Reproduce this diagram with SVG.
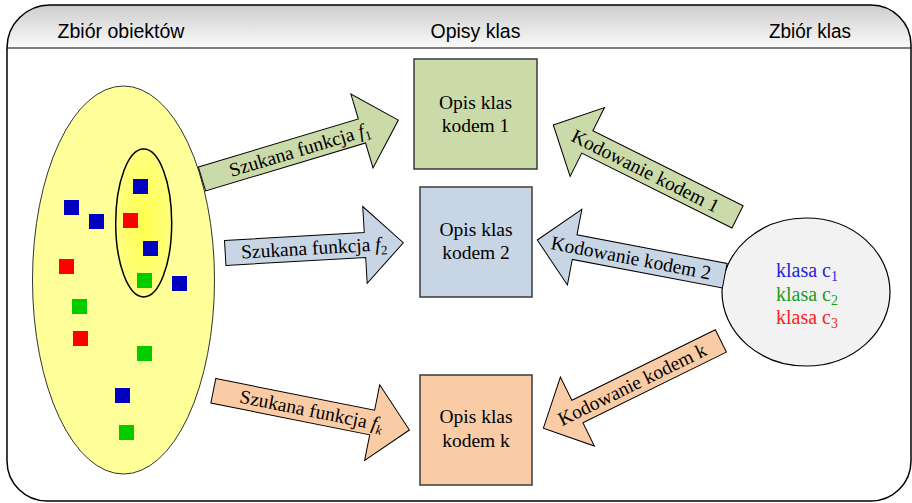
<svg xmlns="http://www.w3.org/2000/svg" width="912" height="503" viewBox="0 0 912 503">
<defs>
<linearGradient id="hdr" x1="0" y1="0" x2="0" y2="1">
<stop offset="0" stop-color="#cdcdcd"/>
<stop offset="1" stop-color="#fbfbfb"/>
</linearGradient>
<radialGradient id="inner" cx="0.5" cy="0.5" r="0.5">
<stop offset="0" stop-color="#ffff4d"/>
<stop offset="1" stop-color="#ffff80"/>
</radialGradient>
<style>
.hdr{font-family:"Liberation Sans",Arial,sans-serif;font-size:19.5px;fill:#000;text-anchor:middle}
.t{font-family:"Liberation Serif","Times New Roman",serif;font-size:19.5px;fill:#000;text-anchor:middle}
.k{font-family:"Liberation Serif","Times New Roman",serif;font-size:20px}
.box{stroke:#3a3a3a;stroke-width:1.5}
.arr{stroke:#000;stroke-width:1}
.g{fill:#cbdaa9}.b{fill:#c8d5e4}.o{fill:#f9cca6}
.sb{fill:#0000c0}.sr{fill:#ff0000}.sg{fill:#00cc00}
.it{font-style:italic}
</style>
</defs>
<g id="frame">
<path d="M7,48 A43,43 0 0 1 50,5 L871,5 A40,40 0 0 1 911,45 L911,48 Z" fill="url(#hdr)"/>
<path d="M7,48 L7,461 A40,40 0 0 0 47,501 L871,501 A40,40 0 0 0 911,461 L911,45 A40,40 0 0 0 871,5 L50,5 A43,43 0 0 0 7,48 Z" fill="none" stroke="#000" stroke-width="1.5"/>
<line x1="7" y1="48" x2="911" y2="48" stroke="#000" stroke-width="1.2"/>
<text class="hdr" x="121" y="38">Zbiór obiektów</text>
<text class="hdr" x="475.5" y="38">Opisy klas</text>
<text class="hdr" x="810" y="38" textLength="82" lengthAdjust="spacingAndGlyphs">Zbiór klas</text>
</g>
<g id="objects">
<ellipse cx="123.5" cy="280" rx="91" ry="194" fill="#ffff99" stroke="#333" stroke-width="1"/>
<ellipse cx="143.7" cy="223" rx="28" ry="74" fill="url(#inner)" stroke="#000" stroke-width="1.5"/>
<rect class="sb" x="133" y="179" width="15" height="15"/>
<rect class="sb" x="64" y="200" width="15" height="15"/>
<rect class="sb" x="89" y="214" width="15" height="15"/>
<rect class="sr" x="123" y="213" width="15" height="15"/>
<rect class="sb" x="143" y="241" width="15" height="15"/>
<rect class="sr" x="59" y="259" width="15" height="15"/>
<rect class="sg" x="137" y="273" width="15" height="15"/>
<rect class="sb" x="172" y="276" width="15" height="15"/>
<rect class="sg" x="72" y="299" width="15" height="15"/>
<rect class="sr" x="73" y="331" width="15" height="15"/>
<rect class="sg" x="137" y="346" width="15" height="15"/>
<rect class="sb" x="115" y="388" width="15" height="15"/>
<rect class="sg" x="119" y="425" width="15" height="15"/>
</g>
<g id="box1">
<rect class="box g" x="414" y="59" width="123" height="110"/>
<text class="t" x="475.5" y="109">Opis klas</text>
<text class="t" x="475.5" y="132">kodem 1</text>
</g>
<g id="box2">
<rect class="box b" x="420" y="187" width="112" height="110"/>
<text class="t" x="476" y="236">Opis klas</text>
<text class="t" x="476" y="259">kodem 2</text>
</g>
<g id="boxk">
<rect class="box o" x="420" y="375" width="112" height="110"/>
<text class="t" x="476" y="423">Opis klas</text>
<text class="t" x="476" y="447">kodem k</text>
</g>
<g id="classes">
<ellipse cx="806" cy="292" rx="84" ry="74" fill="#f2f2f2" stroke="#000" stroke-width="1.2"/>
<text class="k" x="776" y="277" fill="#2222dd">klasa c<tspan font-size="14" dy="4">1</tspan></text>
<text class="k" x="776" y="301" fill="#1a9f1a">klasa c<tspan font-size="14" dy="4">2</tspan></text>
<text class="k" x="776" y="324" fill="#ff2020">klasa c<tspan font-size="14" dy="4">3</tspan></text>
</g>
<g id="connectors">
<g transform="translate(202,179) rotate(-16.7)">
<polygon class="arr g" points="0,-12.5 167,-12.5 167,-38.5 205,0 167,38.5 167,12.5 0,12.5"/>
<text class="t" x="102" y="6.5">Szukana funkcja <tspan class="it">f</tspan><tspan font-size="13" dy="4">1</tspan></text>
</g>
<g transform="translate(225.2,253) rotate(-3.3)">
<polygon class="arr b" points="0,-12.5 140,-12.5 140,-38.5 178.4,0 140,38.5 140,12.5 0,12.5"/>
<text class="t" x="89" y="6.5">Szukana funkcja <tspan class="it">f</tspan><tspan font-size="13" dy="4">2</tspan></text>
</g>
<g transform="translate(213.3,390.8) rotate(11.3)">
<polygon class="arr o" points="0,-12.5 162,-12.5 162,-38.5 200,0 162,38.5 162,12.5 0,12.5"/>
<text class="t" x="100" y="6.5">Szukana funkcja <tspan class="it">f</tspan><tspan class="it" font-size="13" dy="4">k</tspan></text>
</g>
<g transform="translate(553.3,125) rotate(26.5)">
<polygon class="arr g" points="0,0 38,-38.5 38,-12.5 205.9,-12.5 205.9,12.5 38,12.5 38,38.5"/>
<text class="t" x="103" y="6.5">Kodowanie kodem 1</text>
</g>
<g transform="translate(537.3,240) rotate(10.8)">
<polygon class="arr b" points="0,0 38,-38.5 38,-12.5 190.8,-12.5 190.8,12.5 38,12.5 38,38.5"/>
<text class="t" x="95.4" y="6.5">Kodowanie kodem 2</text>
</g>
<g transform="translate(543.3,428.3) rotate(-26.2)">
<polygon class="arr o" points="0,0 38,-38.5 38,-12.5 197.9,-12.5 197.9,12.5 38,12.5 38,38.5"/>
<text class="t" x="99" y="6.5">Kodowanie kodem k</text>
</g>
</g>
</svg>
